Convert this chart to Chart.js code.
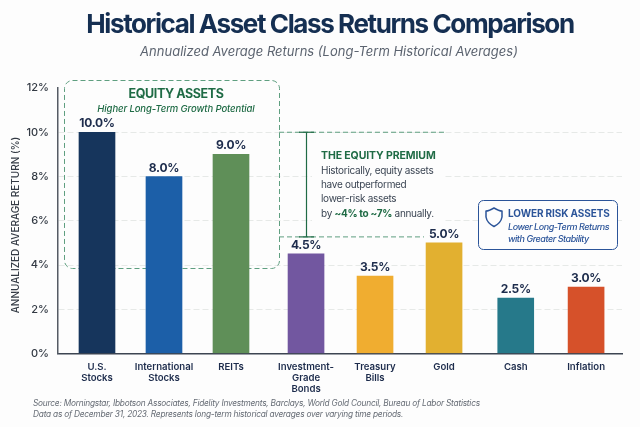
<!DOCTYPE html>
<html lang="en">
<head>
    <meta charset="UTF-8">
    <title>Historical Asset Class Returns Comparison</title>
    <script src="https://cdn.jsdelivr.net/npm/chart.js"></script>
    <style>
        html, body { margin: 0; padding: 0; background: #fdfdfd; }
        #wrap { width: 640px; height: 427px; }
    </style>
</head>
<body>
    <div id="wrap"><canvas id="returnsChart" width="640" height="427"></canvas></div>

    <script>
        // Chart values
        const categories = [['U.S.', 'Stocks'], ['International', 'Stocks'], ['REITs'], ['Investment-', 'Grade', 'Bonds'], ['Treasury', 'Bills'], ['Gold'], ['Cash'], ['Inflation']];
        const returnsPct = [10.0, 8.0, 9.0, 4.5, 3.5, 5.0, 2.5, 3.0];
        const yTicks = [0, 2, 4, 6, 8, 10, 12];

        // Slot of each bar on the x axis (groups sit slightly apart)
        const slots = [1, 2, 3, 4.12, 5.15, 6.18, 7.25, 8.3];
        const barColors = ['#16355c', '#1c5fa8', '#5f8f58', '#7257a0', '#f0ad30', '#e2b030', '#26798a', '#d6512a'];

        const FONT = 'Inter, "Noto Sans", sans-serif';
        const NAVY = '#152f52';
        const GREEN = '#1f6b45';
        const BLUE = '#2b5499';
        const BODY = '#3c4654';

        function text(ctx, str, x, y, font, color, align, spacing) {
            ctx.font = font + ' ' + FONT;
            ctx.fillStyle = color;
            ctx.textAlign = align || 'left';
            ctx.textBaseline = 'middle';
            ctx.letterSpacing = (spacing || 0) + 'px';
            ctx.fillText(str, x, y);
        }

        function roundBox(ctx, x, y, w, h, r) {
            ctx.beginPath();
            ctx.roundRect(x, y, w, h, r);
        }

        function hLine(ctx, x1, x2, y) {
            ctx.beginPath();
            ctx.moveTo(x1, y);
            ctx.lineTo(x2, y);
            ctx.stroke();
        }

        // Equity box and premium bracket sit behind the bars
        const backdrop = {
            id: 'backdrop',
            beforeDatasetsDraw(chart) {
                const ctx = chart.ctx;
                const y = chart.scales.y;
                const top = y.getPixelForValue(10);
                const bottom = y.getPixelForValue(5.27);
                ctx.save();

                // clear the gridlines behind the premium note
                ctx.fillStyle = '#fdfdfd';
                ctx.fillRect(312, top + 6, 132, 88);

                ctx.strokeStyle = '#5f9f80';
                ctx.lineWidth = 1;
                ctx.setLineDash([5, 3]);
                roundBox(ctx, 64.5, 80.5, 215, 188, 8);
                ctx.stroke();
                hLine(ctx, 279, 444, top);
                hLine(ctx, 279, 424, bottom);

                // bracket
                ctx.setLineDash([]);
                ctx.strokeStyle = GREEN;
                ctx.lineWidth = 1.2;
                ctx.beginPath();
                ctx.moveTo(306.5, top);
                ctx.lineTo(306.5, bottom);
                ctx.stroke();
                hLine(ctx, 299, 314, top);
                hLine(ctx, 299, 314, bottom);
                ctx.restore();
            }
        };

        const annotations = {
            id: 'annotations',
            afterDraw(chart) {
                const ctx = chart.ctx;
                const meta = chart.getDatasetMeta(0);
                ctx.save();

                // heading
                text(ctx, 'Historical Asset Class Returns Comparison', 330, 25, '700 26px', NAVY, 'center', -1.4);
                text(ctx, 'Annualized Average Returns (Long-Term Historical Averages)', 329, 52, 'italic 400 13px', '#5c6470', 'center');

                // axis title
                ctx.save();
                ctx.translate(15.5, 225);
                ctx.rotate(-Math.PI / 2);
                text(ctx, 'ANNUALIZED AVERAGE RETURN (%)', 0, 0, '500 10px', '#333a44', 'center');
                ctx.restore();

                // value labels
                meta.data.forEach((bar, i) => {
                    text(ctx, returnsPct[i].toFixed(1) + '%', bar.x, bar.y - 8.5, '700 12px', '#1d2c4c', 'center', -0.3);
                });

                // equity box
                text(ctx, 'EQUITY ASSETS', 176, 94, '700 12.5px', GREEN, 'center', -0.4);
                text(ctx, 'Higher Long-Term Growth Potential', 176, 109, 'italic 500 9.5px', GREEN, 'center', -0.1);

                // premium note
                text(ctx, 'THE EQUITY PREMIUM', 321, 156, '700 10.5px', GREEN, 'left', -0.1);
                text(ctx, 'Historically, equity assets', 321, 171, '400 10px', BODY, 'left', -0.3);
                text(ctx, 'have outperformed', 321, 185, '400 10px', BODY, 'left', -0.3);
                text(ctx, 'lower-risk assets', 321, 199, '400 10px', BODY, 'left', -0.3);
                text(ctx, 'by ', 321, 214, '400 10px', BODY, 'left', -0.3);
                let x = 321 + ctx.measureText('by ').width;
                text(ctx, '~4% to ~7%', x, 214, '700 10px', GREEN, 'left', -0.3);
                x += ctx.measureText('~4% to ~7%').width;
                text(ctx, ' annually.', x, 214, '400 10px', BODY, 'left', -0.3);

                // lower risk callout
                ctx.letterSpacing = '0px';
                ctx.fillStyle = '#fdfdfd';
                ctx.strokeStyle = BLUE;
                ctx.lineWidth = 1;
                roundBox(ctx, 478.5, 200.5, 139, 49, 5);
                ctx.fill();
                ctx.stroke();

                // shield icon
                ctx.lineWidth = 1.5;
                ctx.lineJoin = 'round';
                ctx.beginPath();
                ctx.moveTo(494, 208);
                ctx.quadraticCurveTo(499, 211, 502, 211);
                ctx.lineTo(502, 217);
                ctx.quadraticCurveTo(501, 223, 494, 226.5);
                ctx.quadraticCurveTo(487, 223, 486, 217);
                ctx.lineTo(486, 211);
                ctx.quadraticCurveTo(489, 211, 494, 208);
                ctx.closePath();
                ctx.stroke();

                text(ctx, 'LOWER RISK ASSETS', 508, 214, '700 10px', BLUE, 'left', -0.1);
                text(ctx, 'Lower Long-Term Returns', 508, 227, 'italic 500 9px', BLUE, 'left', -0.45);
                text(ctx, 'with Greater Stability', 508, 239, 'italic 500 9px', BLUE, 'left', -0.45);

                // source note
                text(ctx, 'Source: Morningstar, Ibbotson Associates, Fidelity Investments, Barclays, World Gold Council, Bureau of Labor Statistics', 33, 404, 'italic 400 8.3px', '#666c75', 'left', -0.22);
                text(ctx, 'Data as of December 31, 2023. Represents long-term historical averages over varying time periods.', 33, 415, 'italic 400 8.3px', '#666c75', 'left', -0.22);
                ctx.restore();
            }
        };

        new Chart(document.getElementById('returnsChart'), {
            type: 'bar',
            data: {
                datasets: [{
                    data: slots.map((s, i) => ({ x: s, y: returnsPct[i] })),
                    backgroundColor: barColors,
                    barThickness: 36
                }]
            },
            options: {
                responsive: false,
                animation: false,
                layout: { padding: { left: 0, right: 18, top: 88, bottom: 0 } },
                plugins: {
                    legend: { display: false },
                    tooltip: { enabled: false }
                },
                scales: {
                    x: {
                        type: 'linear',
                        offset: false,
                        min: 0.418,
                        max: 8.836,
                        afterBuildTicks(axis) {
                            axis.ticks = slots.map(v => ({ value: v }));
                        },
                        afterFit(axis) { axis.height = 73.5; },
                        grid: { display: false, offset: false },
                        border: { color: '#3d4552', width: 1.5 },
                        ticks: {
                            autoSkip: false,
                            maxRotation: 0,
                            padding: 0,
                            color: '#1d2c4c',
                            font: { family: FONT, size: 9.6, weight: 600, lineHeight: 1.17 },
                            callback: value => categories[slots.indexOf(value)]
                        }
                    },
                    y: {
                        min: 0,
                        max: 12,
                        afterBuildTicks(axis) {
                            axis.ticks = yTicks.map(v => ({ value: v }));
                        },
                        afterFit(axis) { axis.width = 58; },
                        grid: {
                            color: c => (c.tick.value === 0 || c.tick.value === 12) ? 'transparent' : '#e6e9e7',
                            tickLength: 0,
                            lineWidth: 1
                        },
                        border: { color: '#555b64', width: 1.5, dash: [6, 3] },
                        ticks: {
                            padding: 9,
                            color: '#333a44',
                            font: { family: FONT, size: 11, weight: 500 },
                            callback: value => value + '%'
                        }
                    }
                }
            },
            plugins: [backdrop, annotations]
        });
    </script>
</body>
</html>
